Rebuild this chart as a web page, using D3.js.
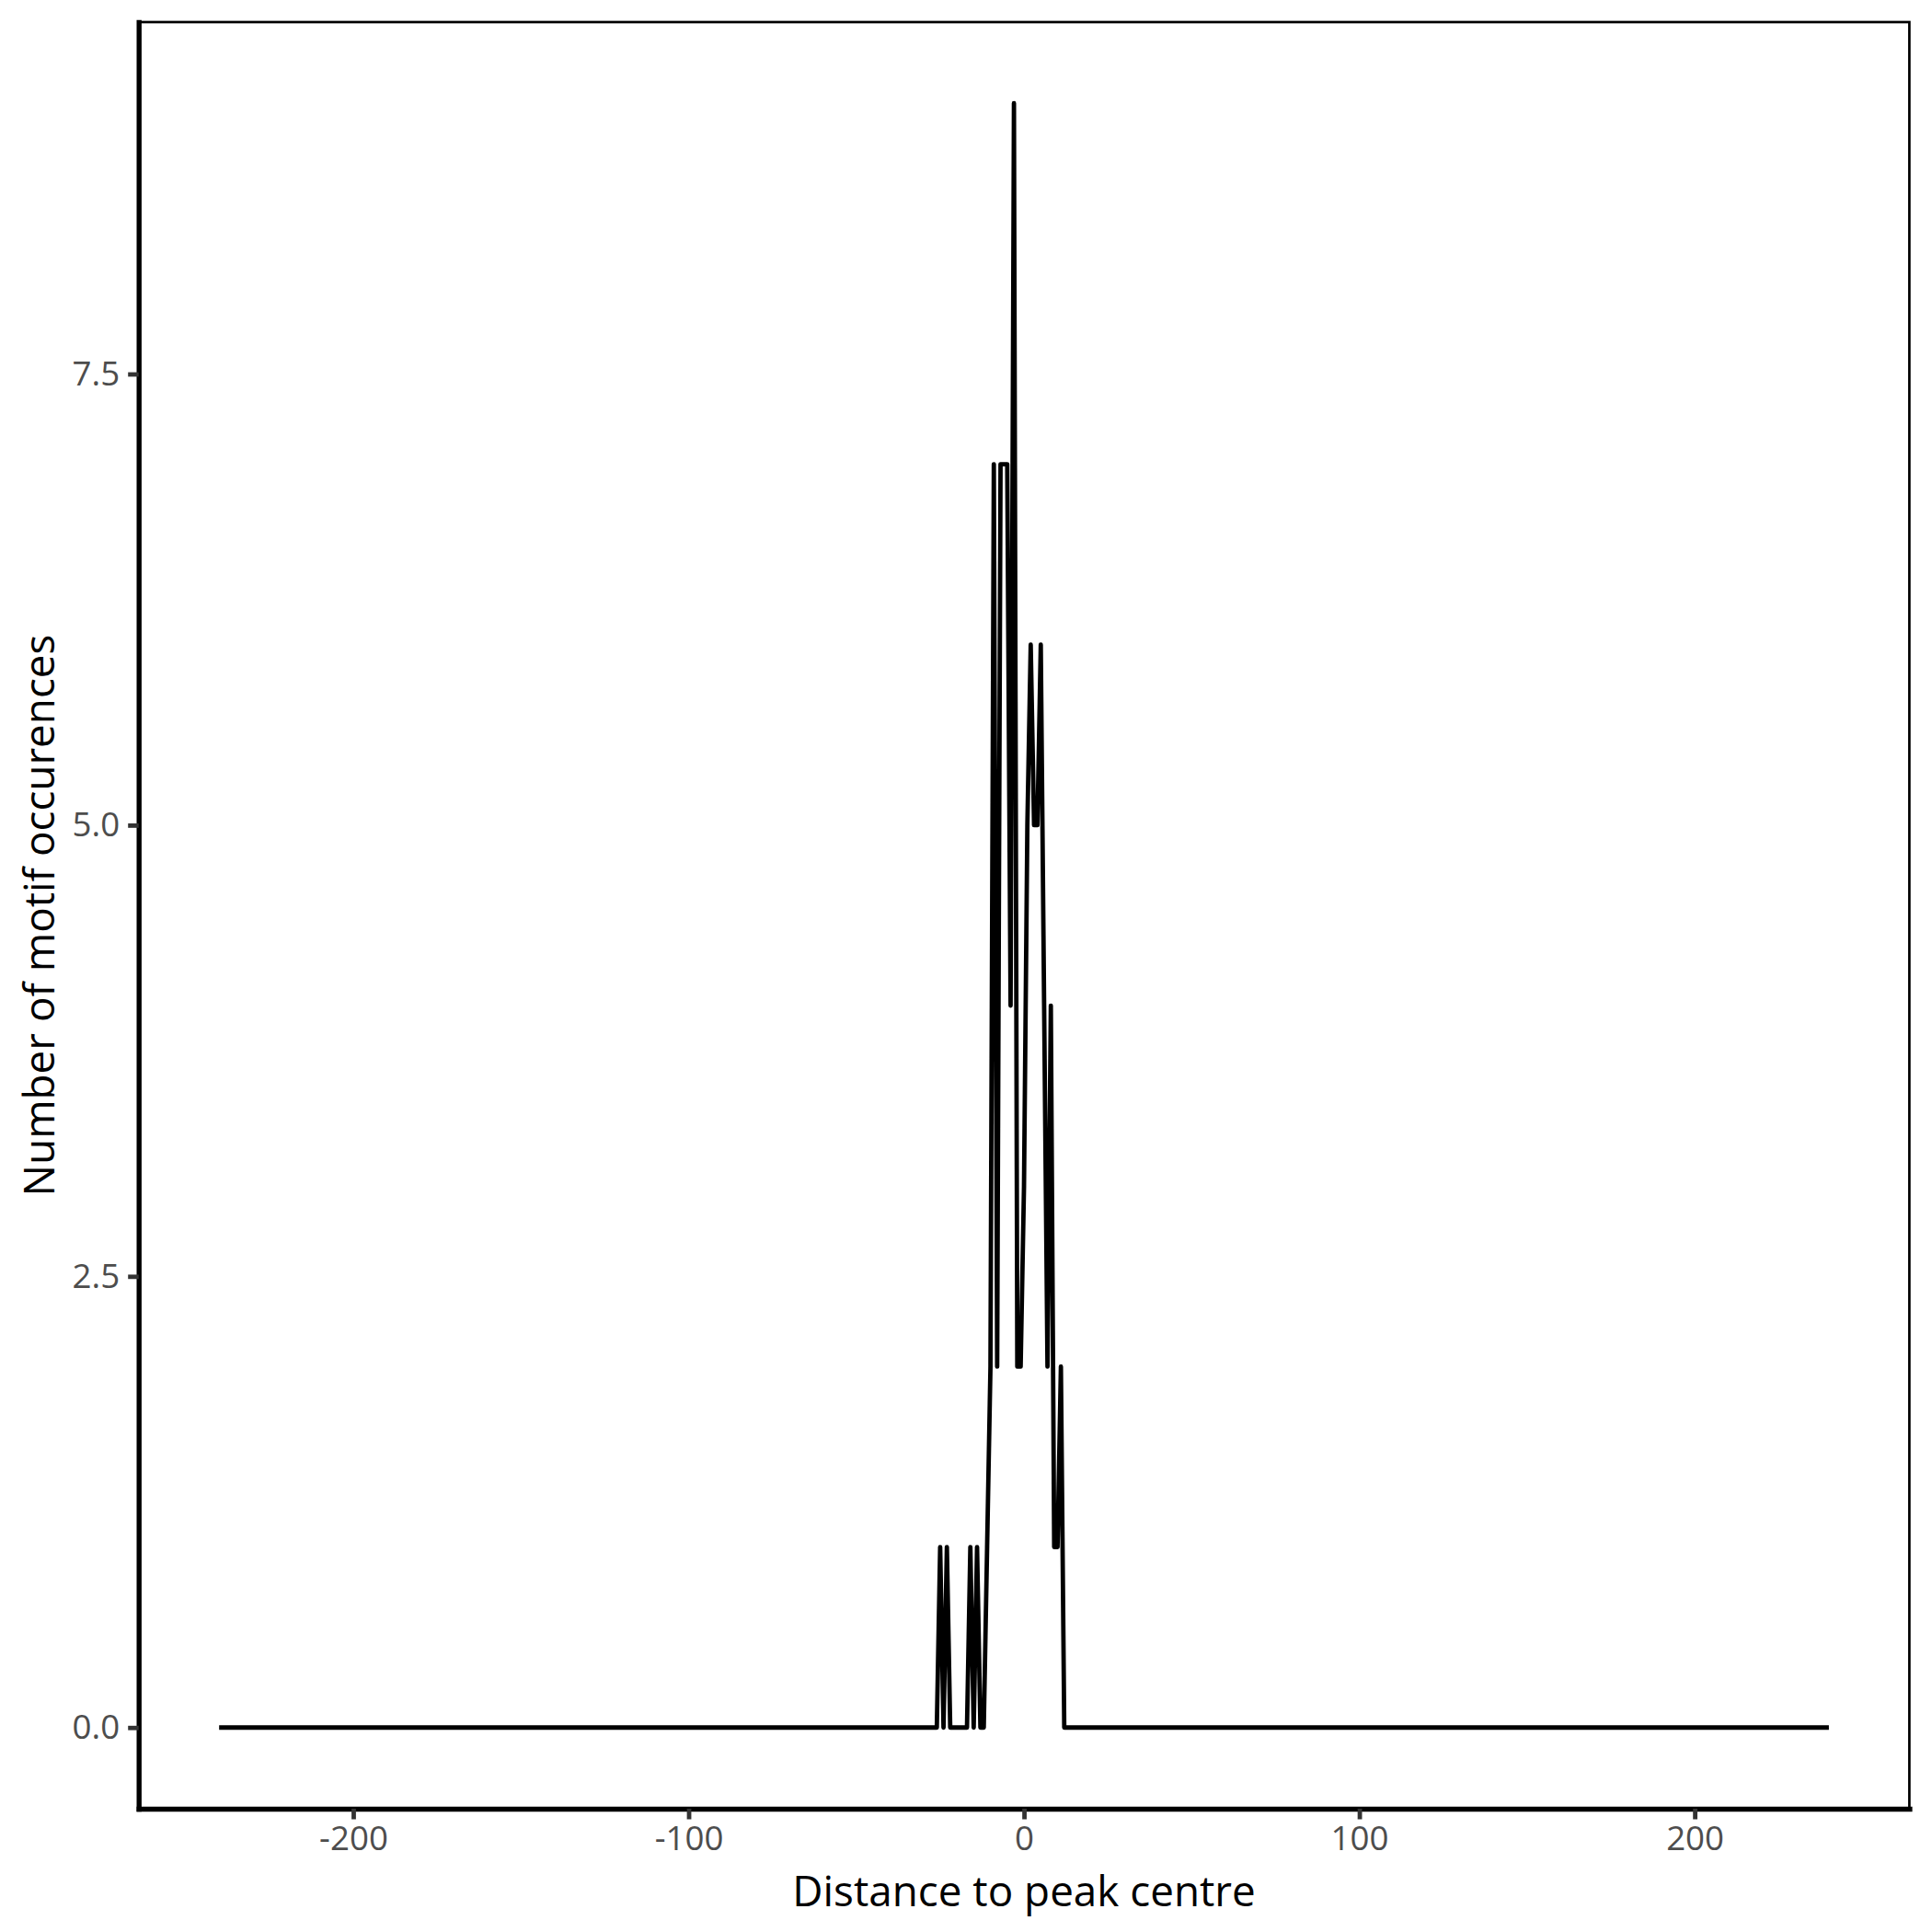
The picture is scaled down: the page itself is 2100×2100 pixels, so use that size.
<html>
<head>
<style>
    body { margin:0; background:white; }
    text { font-family: "Open Sans", "Noto Sans", sans-serif; }
</style>
</head>
<body>
<svg id="plot"></svg>
<script src="https://d3js.org/d3.v7.min.js"></script>
<script>

//distance to peak centre (bp) of each vertex
var positions = [-240, -26, -25, -24, -23, -22, -17, -16, -15, -14, -13, -12,
                 -11, -10, -9, -8, -7, -6, -5, -4, -3, -2, -1, 0,
                 1, 2, 3, 4, 5, 6, 7, 8, 9, 10, 11, 12, 240];

//number of motif occurences at each of those positions
var counts = [0, 0, 1, 0, 1, 0, 0, 1, 0, 1, 0, 0,
              1, 2, 7, 2, 7, 7, 7, 4, 9, 2, 2, 3,
              5, 6, 5, 5, 6, 4, 2, 4, 1, 1, 2, 0, 0];

var xTicks = [-200, -100, 0, 100, 200];
var yTicks = [0, 2.5, 5, 7.5];

var xLabel = "Distance to peak centre";
var yLabel = "Number of motif occurences";

var screen = {width:2100, height:2100};
var panel = {left:150.7, right:2075.4, top:24, bottom:1966};

var initGraph = function(target)
{
    var svg = d3.select(target)
        .attr("width", screen.width)
        .attr("height", screen.height);

    //ggplot style 5% expansion on both scales
    var xMin = d3.min(positions), xMax = d3.max(positions);
    var xPad = (xMax - xMin) * 0.05;
    var xScale = d3.scaleLinear()
        .domain([xMin - xPad, xMax + xPad])
        .range([panel.left, panel.right]);

    var yMax = d3.max(counts);
    var yPad = yMax * 0.05;
    var yScale = d3.scaleLinear()
        .domain([0 - yPad, yMax + yPad])
        .range([panel.bottom, panel.top]);

    //thin panel border
    svg.append("rect")
        .attr("x", panel.left)
        .attr("y", panel.top)
        .attr("width", panel.right - panel.left)
        .attr("height", panel.bottom - panel.top)
        .attr("fill", "none")
        .attr("stroke", "black")
        .attr("stroke-width", 2.7);

    //the line
    var rows = positions.map(function(p, i) { return {x:p, y:counts[i]}; });
    var line = d3.line()
        .x(function(d) { return xScale(d.x); })
        .y(function(d) { return yScale(d.y); });

    svg.append("path")
        .datum(rows)
        .attr("d", line)
        .attr("fill", "none")
        .attr("stroke", "black")
        .attr("stroke-width", 4.8)
        .attr("stroke-linejoin", "round")
        .attr("stroke-linecap", "butt");

    //axes
    var xAxis = d3.axisBottom(xScale)
        .tickValues(xTicks)
        .tickFormat(function(d) { return String(d); })
        .tickSizeInner(11.5)
        .tickSizeOuter(0)
        .tickPadding(7);

    var yAxis = d3.axisLeft(yScale)
        .tickValues(yTicks)
        .tickFormat(d3.format(".1f"))
        .tickSizeInner(11.5)
        .tickSizeOuter(0)
        .tickPadding(9);

    var gx = svg.append("g")
        .attr("transform", "translate(0," + panel.bottom + ")")
        .call(xAxis);

    var gy = svg.append("g")
        .attr("transform", "translate(" + panel.left + ",0)")
        .call(yAxis);

    [gx, gy].forEach(function(g)
    {
        g.select(".domain")
            .attr("stroke", "black")
            .attr("stroke-width", 5.4)
            .attr("stroke-linecap", "square");
        g.selectAll(".tick line")
            .attr("stroke", "#333333")
            .attr("stroke-width", 4.8);
        g.selectAll(".tick text")
            .attr("fill", "#4D4D4D")
            .attr("font-size", 36.7)
            .attr("font-family", "'Open Sans', 'Noto Sans', sans-serif");
    });

    //axis titles
    svg.append("text")
        .text(xLabel)
        .attr("text-anchor", "middle")
        .attr("x", (panel.left + panel.right) / 2)
        .attr("y", 2072)
        .attr("font-size", 45.8)
        .attr("fill", "black");

    svg.append("text")
        .text(yLabel)
        .attr("text-anchor", "middle")
        .attr("transform", "translate(59," + ((panel.top + panel.bottom) / 2) + ") rotate(-90)")
        .attr("font-size", 45.8)
        .attr("fill", "black");
}

initGraph("#plot");

</script>
</body>
</html>
